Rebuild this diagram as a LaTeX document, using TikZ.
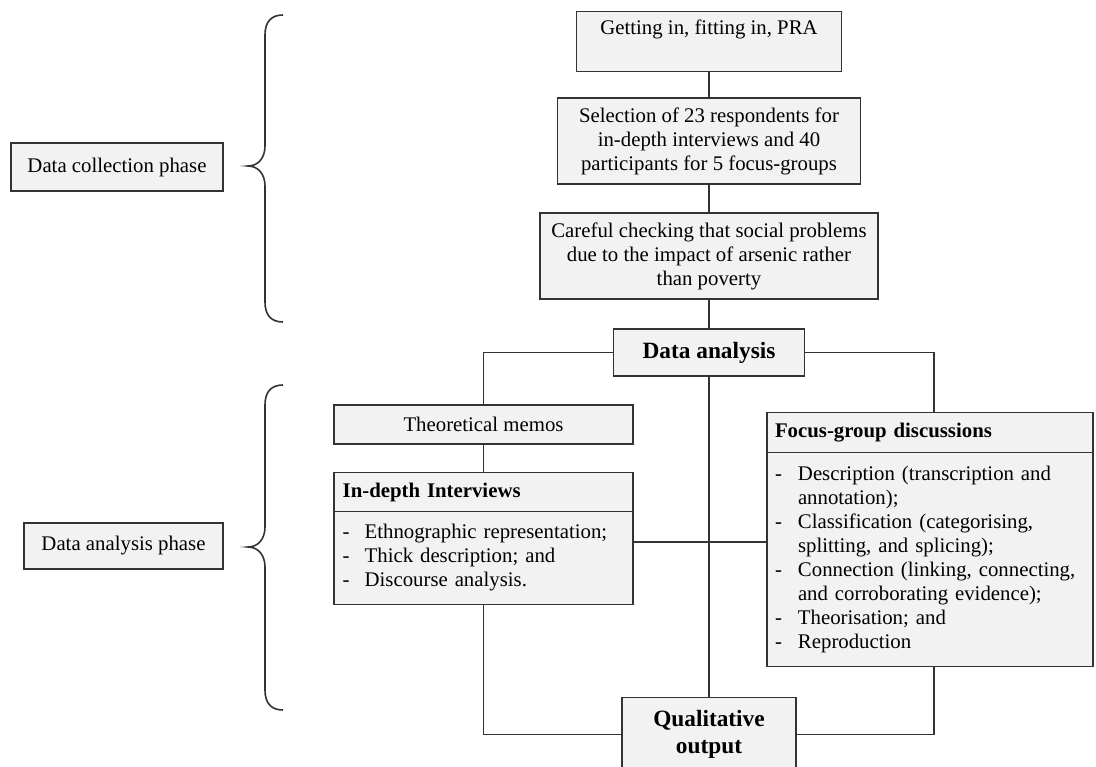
\documentclass[tikz,border=0pt]{standalone}
\usepackage{fontspec}
\setmainfont{Liberation Serif}
\usetikzlibrary{calc}
\definecolor{boxfill}{RGB}{242,242,242}
\definecolor{boxline}{RGB}{51,51,51}
\tikzset{
  plainbox/.style={draw=boxline, fill=boxfill, line width=1pt, inner sep=0pt, align=center, font=\fontsize{15.6pt}{18pt}\selectfont},
  headbox/.style={plainbox, align=left, anchor=north, inner xsep=6.5pt},
  link/.style={draw=boxline, line width=1pt},
  bracket/.style={draw=boxline, line width=1.2pt}
}
\begin{document}
\begin{tikzpicture}[x=0.75pt,y=0.75pt,yscale=-1,xscale=1]
\useasboundingbox (0,0) rectangle (1096,767);

% Text Node
\node [plainbox, anchor=north, minimum width=198.75pt, text height=17.25pt, text depth=27.75pt] (getin) at (709,11) {Getting in, fitting in, PRA};
% Text Node
\node [plainbox, minimum width=227.25pt, minimum height=64.5pt] (select) at (709,141) {Selection of 23 respondents for\\in-depth interviews and 40\\participants for 5 focus-groups};
% Text Node
\node [plainbox, minimum width=253.5pt, minimum height=64.5pt] (careful) at (709,256) {Careful checking that social problems\\due to the impact of arsenic rather\\than poverty};
% Text Node
\node [plainbox, minimum width=143.25pt, minimum height=35.25pt, font=\fontsize{17.5pt}{21pt}\selectfont\bfseries] (analysis) at (709,352.5) {Data analysis};
% Text Node
\node [plainbox, minimum width=224.25pt, minimum height=29.25pt] (memos) at (483.5,424.5) {Theoretical memos};
% Text Node
\node [headbox, text width=211.25pt, minimum height=29.25pt, font=\fontsize{15.6pt}{18pt}\selectfont\bfseries] (indepth) at (483.5,472) {In-depth Interviews};
% Text Node
\node [headbox, text width=211.25pt, minimum height=69.75pt] (indepthlist) at (483.5,511) {\begin{tabular}{@{}p{16.5pt}@{}l@{}}
- & Ethnographic representation;\\
- & Thick description; and\\
- & Discourse analysis.
\end{tabular}};
% Text Node
\node [headbox, inner xsep=6pt, text width=232.5pt, minimum height=30pt, font=\fontsize{15.6pt}{18pt}\selectfont\bfseries] (focus) at (930,412) {Focus-group discussions};
% Text Node
\node [headbox, inner xsep=6pt, text width=232.5pt, minimum height=160.5pt] (focuslist) at (930,452) {\begin{tabular}{@{}p{17.25pt}@{}l@{}}
- & Description (transcription and\\
  & annotation);\\
- & Classification (categorising,\\
  & splitting, and splicing);\\
- & Connection (linking, connecting,\\
  & and corroborating evidence);\\
- & Theorisation; and\\
- & Reproduction
\end{tabular}};
% Text Node
\node [plainbox, anchor=north, minimum width=130.5pt, minimum height=54.75pt, font=\fontsize{17.5pt}{20pt}\selectfont\bfseries] (qual) at (709,697) {Qualitative\\output};
% Text Node
\node [plainbox, minimum width=159pt, minimum height=36pt] (collect) at (117,167) {Data collection phase};
% Text Node
\node [plainbox, minimum width=149.25pt, minimum height=34.5pt] (phase) at (123.5,546) {Data analysis phase};

%Straight Lines
\draw [link] (getin) -- (select);
\draw [link] (select) -- (careful);
\draw [link] (careful) -- (analysis);
\draw [link] (analysis.west) -| (memos.north);
\draw [link] (analysis.east) -| ([xshift=3pt]focus.north);
\draw [link] (analysis) -- (qual);
\draw [link] (memos) -- (indepth);
\coordinate (cross) at (709,542);
\draw [link] (indepthlist.east |- cross) -- (focuslist.west |- cross);
\draw [link] (indepthlist.south) |- (qual.west);
\draw [link] ([xshift=3pt]focuslist.south) |- (qual.east);

%Shape: Brace
\draw [bracket] (283,15) .. controls (271,15) and (265,22) .. (265,35) -- (265,146) .. controls (265,158) and (258,166) .. (248,166) .. controls (258,166) and (265,174) .. (265,186) -- (265,302) .. controls (265,315) and (271,322) .. (283,322);
%Shape: Brace
\draw [bracket] (283,385) .. controls (271,385) and (265,392) .. (265,405) -- (265,527) .. controls (265,539) and (258,547) .. (248,547) .. controls (258,547) and (265,555) .. (265,567) -- (265,690) .. controls (265,703) and (271,710) .. (283,710);

\end{tikzpicture}
\end{document}
